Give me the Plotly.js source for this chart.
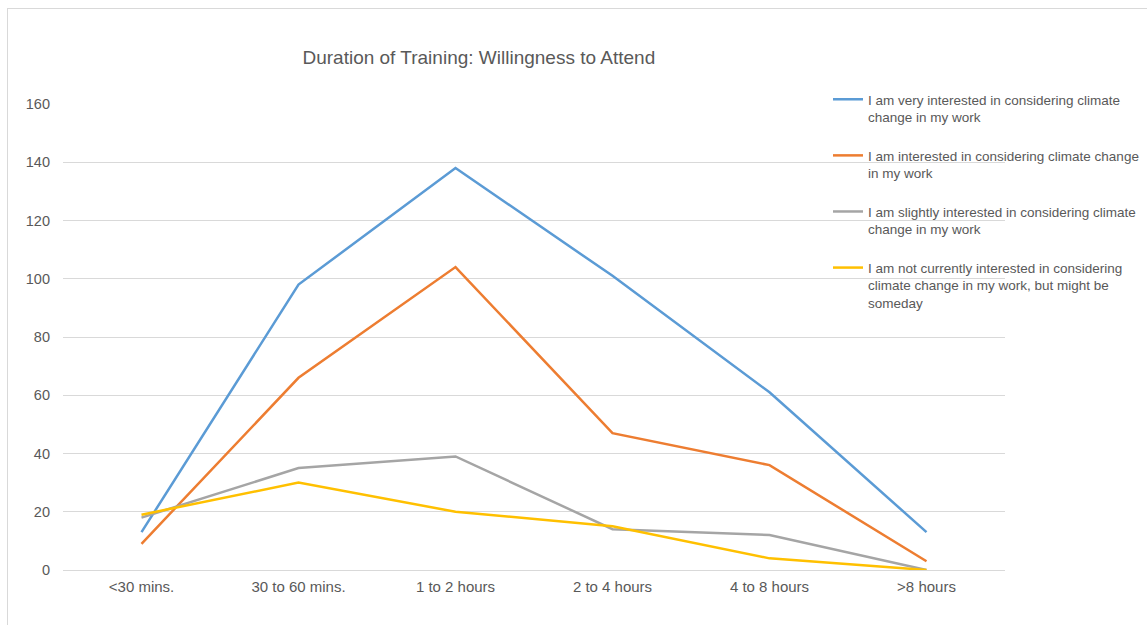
<!DOCTYPE html>
<html>
<head>
<meta charset="utf-8">
<script src="https://cdn.plot.ly/plotly-3.0.1.min.js"></script>
<style>
  html, body { margin: 0; padding: 0; background: #fff; overflow: hidden; }
  #frame { position: absolute; left: 7px; top: 8px; width: 1140px; height: 617px;
           border-left: 1px solid #d9d9d9; border-top: 1px solid #d9d9d9; }
  #chart { position: absolute; left: 1px; top: 0px; width: 1139px; height: 617px; }
</style>
</head>
<body>
<div id="frame"><div id="chart"></div></div>
<script>
const categories = ["<30 mins.", "30 to 60 mins.", "1 to 2 hours", "2 to 4 hours", "4 to 8 hours", ">8 hours"];
const seriesNames = [
  "I am very interested in considering climate<br>change in my work",
  "I am interested in considering climate change<br>in my work",
  "I am slightly interested in considering climate<br>change in my work",
  "I am not currently interested in considering<br>climate change in my work, but might be<br>someday"
];
const veryInterested = [13, 98, 138, 101, 61, 13];
const interested = [9, 66, 104, 47, 36, 3];
const slightlyInterested = [18, 35, 39, 14, 12, 0];
const notCurrently = [19, 30, 20, 15, 4, 0];
const colors = ["#5B9BD5", "#ED7D31", "#A5A5A5", "#FFC000"];
const yTicks = [0, 20, 40, 60, 80, 100, 120, 140, 160];

const values = [veryInterested, interested, slightlyInterested, notCurrently];
const traces = values.map((v, i) => ({
  type: "scatter",
  mode: "lines",
  x: categories,
  y: v,
  name: seriesNames[i],
  legendgroup: "g" + i,
  line: { color: colors[i], width: 2.5 },
  hoverinfo: "skip"
}));

const font = { family: "Liberation Sans, Arial, sans-serif", color: "#595959" };

const layout = {
  width: 1139, height: 617,
  margin: { l: 54, r: 143, t: 95, b: 56, autoexpand: false },
  paper_bgcolor: "#fff", plot_bgcolor: "#fff",
  font: Object.assign({ size: 14 }, font),
  showlegend: true,
  title: {
    text: "Duration of Training: Willingness to Attend",
    font: Object.assign({ size: 19 }, font),
    xref: "container", x: 0.4125, xanchor: "center",
    yref: "container", y: 0.922, yanchor: "middle"
  },
  xaxis: {
    type: "category",
    categoryorder: "array", categoryarray: categories,
    range: [-0.5, 5.5],
    showgrid: false, zeroline: false, showline: false,
    ticks: "", tickfont: Object.assign({ size: 15 }, font),
    ticklabelstandoff: 6
  },
  yaxis: {
    range: [0, 160],
    tickvals: yTicks,
    showgrid: true, gridcolor: "#d9d9d9", gridwidth: 1,
    zeroline: true, zerolinecolor: "#d9d9d9", zerolinewidth: 1,
    showline: false, ticks: "",
    tickfont: Object.assign({ size: 14.5 }, font),
    ticklabelstandoff: 12
  },
  legend: {
    x: 819 / 1139, xref: "container", xanchor: "left",
    y: 1 - (75 / 617), yref: "container", yanchor: "top",
    valign: "top",
    font: Object.assign({ size: 13.5 }, font),
    tracegroupgap: 18,
    bgcolor: "rgba(0,0,0,0)",
    itemclick: false, itemdoubleclick: false
  }
};

Plotly.newPlot("chart", traces, layout, { displayModeBar: false, staticPlot: true });
</script>
</body>
</html>
